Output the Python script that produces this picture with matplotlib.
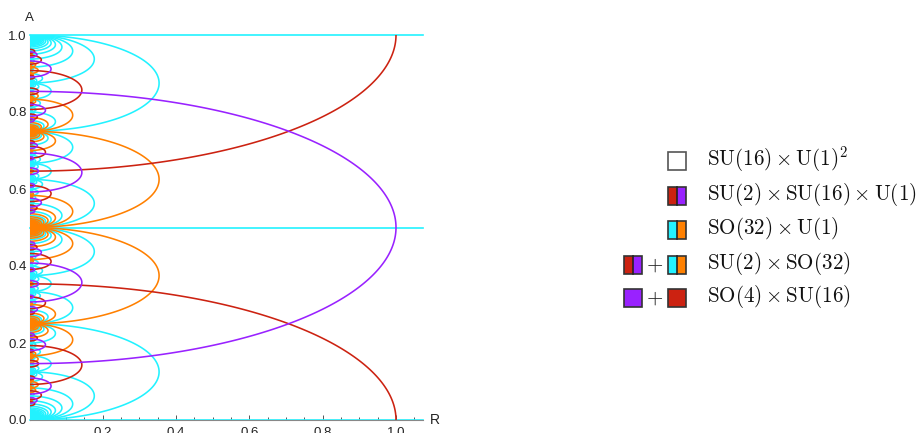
import numpy as np
import matplotlib
matplotlib.use("Agg")
import matplotlib.pyplot as plt
from matplotlib.collections import LineCollection
from matplotlib.patches import Rectangle

plt.rcParams['font.family'] = ['Liberation Sans', 'DejaVu Sans']
plt.rcParams['mathtext.fontset'] = 'cm'

# Enhancement loci of the heterotic circle with Wilson line A*(1,...,1):
# lattice vector pi = m*(1,...,1) + eps*(e_i + e_j) (extra = 2) or m*(1,...,1) (extra = 0)
# m integer -> vector class, m half-integer -> spinor class
loci_colors = ['#22F2FF', '#FF8000', '#CC2211', '#9922FF']   # draw order: cyan, orange, red, purple
loci_class = [0.0, 0.5, 0.0, 0.5]
loci_extra = [2, 2, 0, 0]
w_max = 90

# winding-zero SO(32) lines
line_A = [0.0, 0.5, 1.0]
line_color = '#22F2FF'

# legend
legend_labels = [r'$\mathrm{SU}(16)\times\mathrm{U}(1)^2$',
                 r'$\mathrm{SU}(2)\times\mathrm{SU}(16)\times\mathrm{U}(1)$',
                 r'$\mathrm{SO}(32)\times\mathrm{U}(1)$',
                 r'$\mathrm{SU}(2)\times\mathrm{SO}(32)$',
                 r'$\mathrm{SO}(4)\times\mathrm{SU}(16)$']
legend_right = [('white',), ('#CC2211', '#9922FF'), ('#22F2FF', '#FF8000'),
                ('#22F2FF', '#FF8000'), ('#CC2211',)]
legend_left = [None, None, None, ('#CC2211', '#9922FF'), ('#9922FF',)]


def loci(offset, extra):
    segs = []
    t = np.linspace(0, np.pi, 400)
    eps_list = [1, -1] if extra else [1]
    for w in range(1, w_max + 1):
        for mi in range(-2 * w - 3, w + 3):
            m = mi + offset
            for eps in eps_list:
                s = 16 * m + eps * extra
                pi2 = 16 * m * m + 2 * eps * m * extra + extra
                nw = (2 - pi2) / 2
                nwi = int(round(nw))
                if abs(nw - nwi) > 1e-9 or nwi % w != 0:
                    continue
                r2 = (32 - 16 * pi2 + s * s) / (32.0 * w * w)
                if r2 <= 0:
                    continue
                c = -s / (16.0 * w)
                h = np.sqrt(r2 / 8.0)
                if c + h < 0 or c - h > 1:
                    continue
                a = c + h * np.cos(t)
                R = np.sqrt(r2) * np.sin(t)
                segs.append(np.column_stack([R, a]))
    return segs


fig = plt.figure(figsize=(9.2, 4.33), dpi=100)
ax = fig.add_axes([29.5 / 920, 13 / 433, 393.5 / 920, 385 / 433])
ax.set_xlim(0, 393.5 / 366.5)
ax.set_ylim(0, 1)

for a0 in line_A:
    ax.plot([0, 393.5 / 366.5], [a0, a0], color=line_color, lw=1.2, clip_on=False, zorder=2)

for col, off, ex in zip(loci_colors, loci_class, loci_extra):
    lc = LineCollection(loci(off, ex), colors=col, linewidths=1.15, zorder=3)
    ax.add_collection(lc)

for sp in ['top', 'right']:
    ax.spines[sp].set_visible(False)
for sp in ['left', 'bottom']:
    ax.spines[sp].set_color('#888888')
    ax.spines[sp].set_linewidth(0.8)

ax.set_xticks([0.2, 0.4, 0.6, 0.8, 1.0])
ax.set_xticks(np.arange(0.05, 1.07, 0.05), minor=True)
ax.set_yticks([0.0, 0.2, 0.4, 0.6, 0.8, 1.0])
ax.set_yticks(np.arange(0.05, 1.0, 0.05), minor=True)
ax.xaxis.set_major_formatter(matplotlib.ticker.FormatStrFormatter('%.1f'))
ax.yaxis.set_major_formatter(matplotlib.ticker.FormatStrFormatter('%.1f'))
ax.tick_params(which='both', direction='in', color='#555555', width=0.7, labelsize=9.5,
               labelcolor='#222222')
ax.tick_params(which='major', length=3.5)
ax.tick_params(which='minor', length=2)
ax.tick_params(axis='x', pad=5)
ax.tick_params(axis='y', pad=2)

ax.text(393.5 / 366.5 + 7 / 366.5, 0, 'R', fontsize=10, color='#222222',
        ha='left', va='center', clip_on=False)
ax.text(0, 1 + 17 / 385, 'A', fontsize=9.5, color='#222222',
        ha='center', va='center', clip_on=False)

# legend drawn in pixel coordinates
lg = fig.add_axes([0, 0, 1, 1])
lg.set_xlim(0, 920)
lg.set_ylim(433, 0)
lg.axis('off')
lg.patch.set_alpha(0)

row_y = [161, 195.5, 230, 264.5, 298]
sq = 18


def swatch(x0, yc, cols):
    if len(cols) == 1:
        lg.add_patch(Rectangle((x0, yc - sq / 2), sq, sq, facecolor=cols[0],
                               edgecolor='#555555' if cols[0] == 'white' else '#333333', lw=1.2))
    else:
        lg.add_patch(Rectangle((x0, yc - sq / 2), sq / 2, sq, facecolor=cols[0], edgecolor='none'))
        lg.add_patch(Rectangle((x0 + sq / 2, yc - sq / 2), sq / 2, sq, facecolor=cols[1], edgecolor='none'))
        lg.add_patch(Rectangle((x0, yc - sq / 2), sq, sq, facecolor='none', edgecolor='#333333', lw=1.2))
        lg.plot([x0 + sq / 2, x0 + sq / 2], [yc - sq / 2, yc + sq / 2], color='#222222', lw=1.2)


for y, lab, rc, lc_ in zip(row_y, legend_labels, legend_right, legend_left):
    swatch(668, y, rc)
    if lc_ is not None:
        swatch(624, y, lc_)
        lg.text(655, y + 0.5, r'$+$', fontsize=15, ha='center', va='center', color='#222222')
    lg.text(707.5, y + 4.5, lab, fontsize=15.2, ha='left', va='baseline', color='#111111')

fig.savefig('out.png', dpi=100)
